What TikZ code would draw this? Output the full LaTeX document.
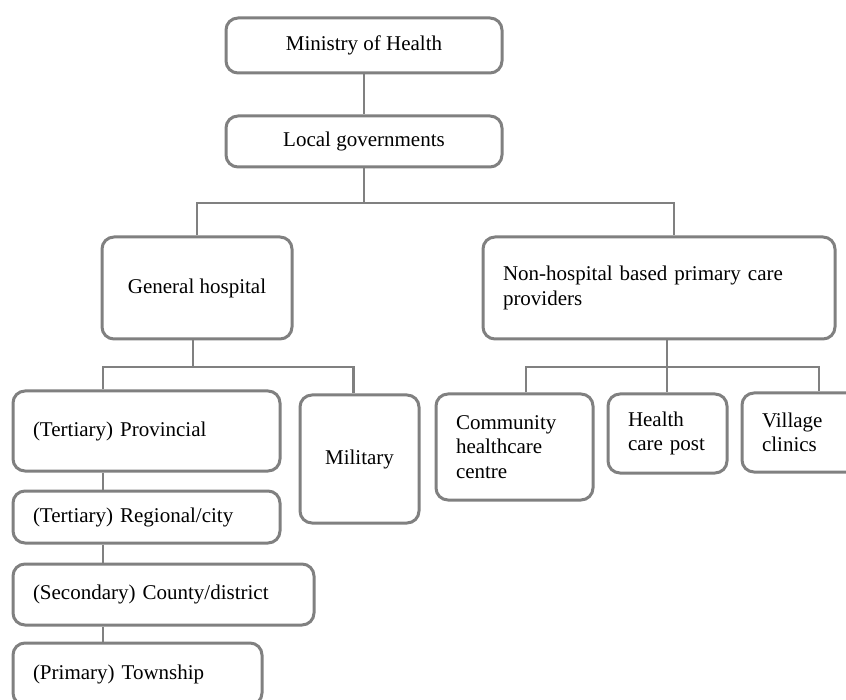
\documentclass[tikz,border=0pt]{standalone}
\usepackage{fontspec}
\setmainfont{Liberation Serif}
\tikzset{
    orgbox/.style={draw=gray, line width=3pt, rounded corners=12pt,
        fill=white, inner xsep=20pt, inner ysep=0pt,
        font=\fontsize{21}{24.5}\selectfont},
    link/.style={draw=gray, line width=2.6pt}
}
\begin{document}
\begin{tikzpicture}[x=1pt,y=-1pt]
        \useasboundingbox (0,0) rectangle (846,700);
        \clip (0,0) rectangle (846,700);
        \begin{scope}[every node/.style={orgbox}]
            \node (MH) at (364,45.5) [minimum width=276pt, minimum height=55pt, align=center]{Ministry of Health};
            \node (LG) at (364,141.5) [minimum width=276pt, minimum height=51pt, align=center]{Local governments};
            \node (GH) at (197,288) [minimum width=190pt, minimum height=102pt, align=center]{General hospital};
            \node (NH) at (659,288) [text width=312pt, minimum height=102pt, align=left]{Non-hospital based primary care\\providers};
            \node (PR) at (146.5,431) [text width=227pt, minimum height=80pt, align=left]{(Tertiary) Provincial};
            \node (MI) at (359.5,459) [minimum width=119pt, minimum height=128pt, align=center]{Military};
            \node (RG) at (146.5,517) [text width=227pt, minimum height=52pt, align=left]{(Tertiary) Regional/city};
            \node (CO) at (163.5,594.5) [text width=261pt, minimum height=61pt, align=left]{(Secondary) County/district};
            \node (TW) at (137.5,674) [text width=209pt, minimum height=62pt, align=left]{(Primary) Township};
            \node (CH) at (514.5,447) [text width=117pt, minimum height=106pt, align=left]{Community\\healthcare\\centre};
            \node (HP) at (667.5,433.5) [text width=79pt, minimum height=79pt, align=left]{Health\\care post};
            \node (VC) at (811,432.5) [text width=98pt, minimum height=79pt, align=left]{Village\\clinics};
        \end{scope}

        \coordinate (jLG) at (364,203);
        \coordinate (jGH) at (193,367);
        \coordinate (jNH) at (667,367);
        \coordinate (spine) at (103,0);

        \path[link] (MH) -- (LG);
        \path[link] (LG.south) -- (jLG);
        \path[link] (GH.north) |- (jLG) -| ([xshift=15pt]NH.north);
        \path[link] (GH.south -| jGH) -- (jGH);
        \path[link] (PR.north -| spine) |- (jGH) -| ([xshift=-6pt]MI.north);
        \path[link] (PR.south -| spine) -- (RG.north -| spine);
        \path[link] (RG.south -| spine) -- (CO.north -| spine);
        \path[link] (CO.south -| spine) -- (TW.north -| spine);
        \path[link] (NH.south -| jNH) -- (HP.north -| jNH);
        \path[link] ([xshift=11.5pt]CH.north) |- (jNH) -| ([xshift=8pt]VC.north);
    \end{tikzpicture}
\end{document}
